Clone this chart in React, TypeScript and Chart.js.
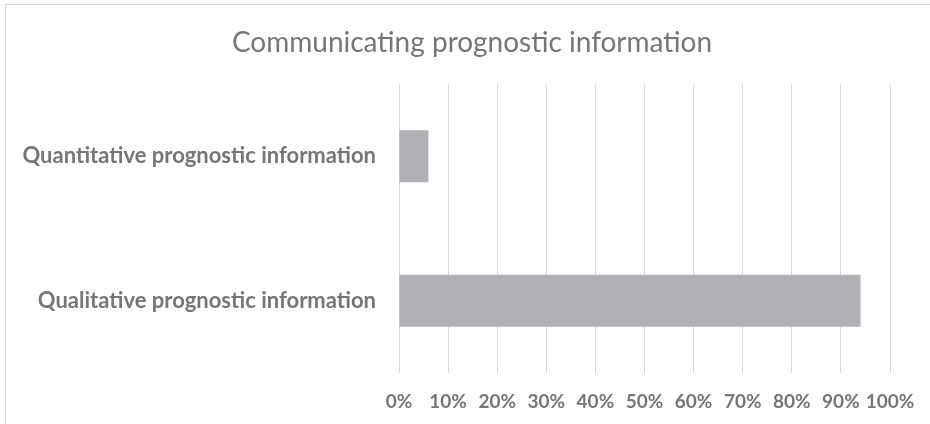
import React, { useEffect, useRef } from "react";
import { Chart, registerables } from "chart.js";

Chart.register(...registerables);

const categories = ["Quantitative prognostic information", "Qualitative prognostic information"];
const values = [6, 94];
const titleText = "Communicating prognostic information";
const tickValues = [0, 10, 20, 30, 40, 50, 60, 70, 80, 90, 100];

const FONT = "Lato, 'Open Sans', sans-serif";
const TEXT = "#767676";

export default function App() {
  const ref = useRef<HTMLCanvasElement>(null);
  useEffect(() => {
    if (!ref.current) return;
    const chart = new Chart(ref.current, {
      type: "bar",
      data: {
        labels: categories,
        datasets: [
          {
            data: values,
            backgroundColor: "#b0b1b5",
            borderWidth: 0,
            categoryPercentage: 1,
            barPercentage: 0.36,
          },
        ],
      },
      options: {
        indexAxis: "y",
        responsive: false,
        animation: false,
        layout: { padding: { left: 0, right: 0, top: 0, bottom: 0 } },
        plugins: {
          legend: { display: false },
          tooltip: { enabled: false },
          title: {
            display: true,
            text: titleText,
            color: TEXT,
            font: { family: FONT, size: 28, weight: "normal" },
            padding: { top: 26, bottom: 24.4 },
          },
        },
        scales: {
          x: {
            min: 0,
            max: 100,
            afterBuildTicks: (scale: any) => {
              scale.ticks = tickValues.map((v) => ({ value: v }));
            },
            afterFit: (scale: any) => {
              scale.height = 51;
            },
            grid: { color: "#d9d9d9", lineWidth: 1, drawTicks: false },
            border: { display: false },
            ticks: {
              padding: 17,
              color: TEXT,
              font: { family: FONT, size: 19, weight: "bold" },
              callback: (v: any) => v + "%",
              maxRotation: 0,
              autoSkip: false,
            },
          },
          y: {
            afterFit: (scale: any) => {
              scale.width = 399;
            },
            grid: { display: false, drawTicks: false },
            border: { display: false },
            ticks: {
              padding: 23,
              color: TEXT,
              font: { family: FONT, size: 22, weight: "bold" },
            },
          },
          yRight: {
            type: "category",
            position: "right",
            afterFit: (scale: any) => {
              scale.width = 54;
            },
            grid: { display: false, drawTicks: false },
            border: { display: false },
            ticks: { display: false },
          },
        },
      },
    });
    return () => chart.destroy();
  }, []);
  return (
    <div style={{ position: "fixed", left: 0, top: 0, width: 930, height: 424, background: "#fff", overflow: "hidden" }}>
      <div
        style={{
          position: "absolute",
          left: 5,
          top: 4,
          width: 940,
          height: 440,
          border: "1px solid #d9d9d9",
          boxSizing: "border-box",
        }}
      />
      <canvas ref={ref} width={944} height={424} style={{ position: "absolute", left: 0, top: 0 }} />
    </div>
  );
}
